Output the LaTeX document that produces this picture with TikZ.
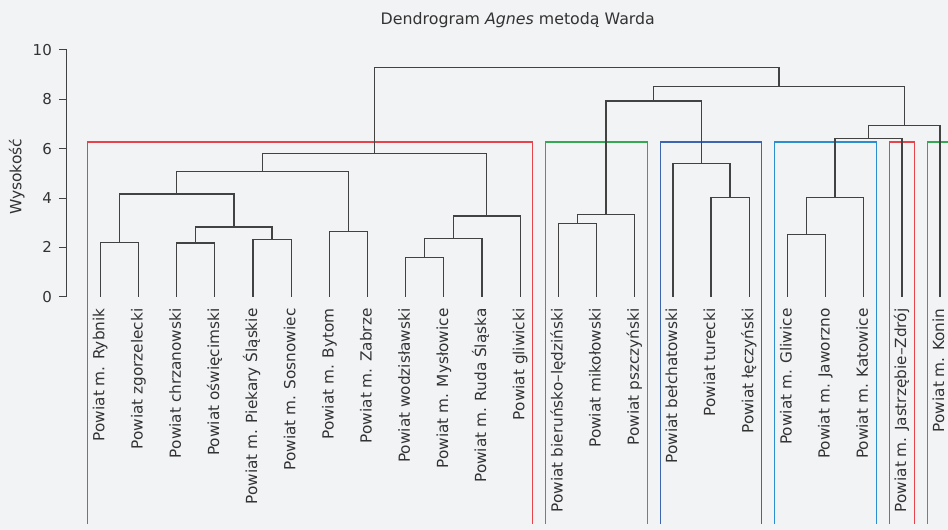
\documentclass[tikz,border=0pt]{standalone}
\usepackage{fontspec}
\setmainfont{DejaVu Sans}
\usepackage{tikz}
\usetikzlibrary{arrows.meta}
\definecolor{bg}{HTML}{F2F3F5}
\definecolor{treeline}{HTML}{424242}
\definecolor{inktext}{HTML}{333333}
\definecolor{boxred}{HTML}{E8434B}
\definecolor{boxgreen}{HTML}{34A853}
\definecolor{boxblue}{HTML}{3E66B0}
\definecolor{boxcyan}{HTML}{2B8FCF}

\begin{document}
\begin{tikzpicture}[x=38.17pt, y=24.67pt,
    tree/.style={draw=treeline, line width=1.3pt},
    clusterbox/.style={draw=#1, line width=1.1pt},
    axisline/.style={draw=treeline, line width=1pt},
    leaf/.style={rotate=90, anchor=base east, inner sep=0pt, text=inktext,
      font=\fontsize{15.3}{16}\selectfont},
    ticklabel/.style={anchor=east, inner sep=0pt, text=inktext,
      font=\fontsize{15}{16}\selectfont}]
  \fill[bg] (-2.6277,-9.4568) rectangle (22.2085,12.0268);
  \useasboundingbox (-2.6277,-9.4568) rectangle (22.2085,12.0268);

  % title
  \node[anchor=base, text=inktext, font=\fontsize{15.8}{18}\selectfont] (title)
    at (10.938,11.02) {Dendrogram \textit{Agnes} metodą Warda};

  % axis
  \draw[axisline] (-0.8724,0) -- (-0.8724,10);
  \foreach \v in {0,2,...,10} {
    \draw[axisline] (-1.082,\v) -- (-0.8724,\v);
    \node[ticklabel] (t\v) at (-1.265,\v) {\v};
  }
  \node[rotate=90, text=inktext, font=\fontsize{15.5}{17}\selectfont] (ylab)
    at (-2.19,4.86) {Wysokość};

  % leaves
  \foreach \name [count=\i from 0] in {Powiat m. Rybnik, Powiat zgorzelecki,
      Powiat chrzanowski, Powiat oświęcimski, Powiat m. Piekary Śląskie,
      Powiat m. Sosnowiec, Powiat m. Bytom, Powiat m. Zabrze,
      Powiat wodzisławski, Powiat m. Mysłowice, Powiat m. Ruda Śląska,
      Powiat gliwicki, Powiat bieruńsko–lędziński, Powiat mikołowski,
      Powiat pszczyński, Powiat bełchatowski, Powiat turecki,
      Powiat łęczyński, Powiat m. Gliwice, Powiat m. Jaworzno,
      Powiat m. Katowice, Powiat m. Jastrzębie–Zdrój, Powiat m. Konin} {
    \coordinate (l\i) at (\i,0);
    \node[leaf] (n\i) at (\i+0.11,-0.47) {\name};
  }

  % clusters
  \draw[clusterbox=boxred] (-0.333,-9.214) |- (11.333,6.27) -- (11.333,-9.214);
  \draw[clusterbox=boxgreen] (11.667,-9.214) |- (14.333,6.27) -- (14.333,-9.214);
  \draw[clusterbox=boxblue] (14.667,-9.214) |- (17.333,6.27) -- (17.333,-9.214);
  \draw[clusterbox=boxcyan] (17.667,-9.214) |- (20.333,6.27) -- (20.333,-9.214);
  \draw[clusterbox=boxred] (20.667,-9.214) |- (21.333,6.27) -- (21.333,-9.214);
  \draw[clusterbox=boxgreen] (21.667,-9.214) |- (22.333,6.27) -- (22.333,-9.214);

  % merges
  \coordinate (mA) at (0.5,2.19);
  \coordinate (mB) at (2.5,2.18);
  \coordinate (mC) at (4.5,2.31);
  \coordinate (mD) at (3.5,2.83);
  \coordinate (mE) at (2,4.16);
  \coordinate (mF) at (6.5,2.65);
  \coordinate (mG) at (4.25,5.08);
  \coordinate (mH) at (8.5,1.58);
  \coordinate (mI) at (9.25,2.35);
  \coordinate (mJ) at (10.125,3.27);
  \coordinate (mK) at (7.1875,5.80);
  \coordinate (mL) at (12.5,2.97);
  \coordinate (mM) at (13.25,3.34);
  \coordinate (mN) at (16.5,4.01);
  \coordinate (mO) at (15.75,5.41);
  \coordinate (mP) at (14.5,7.93);
  \coordinate (mQ) at (18.5,2.53);
  \coordinate (mR) at (19.25,4.03);
  \coordinate (mS) at (20.125,6.42);
  \coordinate (mT) at (21.0625,6.93);
  \coordinate (mU) at (17.78125,8.51);
  \coordinate (mV) at (12.484375,9.28);

  \draw[tree] (l0) |- (mA) -| (l1);
  \draw[tree] (l2) |- (mB) -| (l3);
  \draw[tree] (l4) |- (mC) -| (l5);
  \draw[tree] (mB) |- (mD) -| (mC);
  \draw[tree] (mA) |- (mE) -| (mD);
  \draw[tree] (l6) |- (mF) -| (l7);
  \draw[tree] (mE) |- (mG) -| (mF);
  \draw[tree] (l8) |- (mH) -| (l9);
  \draw[tree] (mH) |- (mI) -| (l10);
  \draw[tree] (mI) |- (mJ) -| (l11);
  \draw[tree] (mG) |- (mK) -| (mJ);
  \draw[tree] (l12) |- (mL) -| (l13);
  \draw[tree] (mL) |- (mM) -| (l14);
  \draw[tree] (l16) |- (mN) -| (l17);
  \draw[tree] (l15) |- (mO) -| (mN);
  \draw[tree] (mM) |- (mP) -| (mO);
  \draw[tree] (l18) |- (mQ) -| (l19);
  \draw[tree] (mQ) |- (mR) -| (l20);
  \draw[tree] (mR) |- (mS) -| (l21);
  \draw[tree] (mS) |- (mT) -| (l22);
  \draw[tree] (mP) |- (mU) -| (mT);
  \draw[tree] (mK) |- (mV) -| (mU);
\end{tikzpicture}
\end{document}
